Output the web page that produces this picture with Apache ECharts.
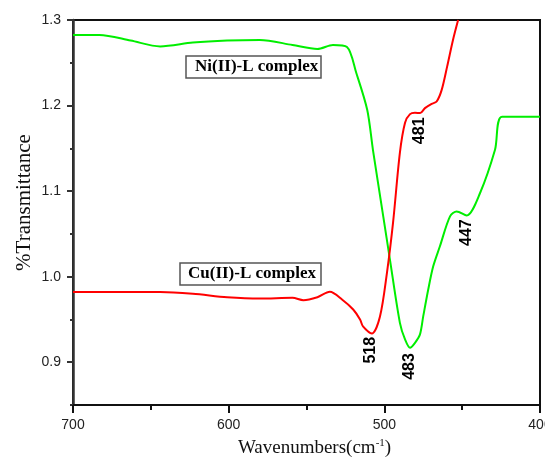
<!DOCTYPE html>
<html>
<head>
<meta charset="utf-8">
<script src="https://cdn.jsdelivr.net/npm/echarts@6/dist/echarts.min.js"></script>
<style>
  html, body { margin: 0; padding: 0; background: #fff; }
  #chart { width: 545px; height: 461px; }
</style>
</head>
<body>
<div id="chart"></div>
<script>
// Ni(II)-L complex spectrum (green)
const niWave = [700, 683, 663, 644, 623, 601, 580, 559, 543, 533, 524, 518, 511, 507.3, 500.7, 496.4, 490, 486.7, 483.5, 480.3, 477.1, 475, 471.8, 468.6, 464.3, 457.8, 453.5, 447.1, 438.5, 428.9, 424.4, 400];
const niT = [1.2825, 1.2825, 1.276, 1.2691, 1.2736, 1.276, 1.2767, 1.2708, 1.2661, 1.2708, 1.2685, 1.238, 1.195, 1.148, 1.0705, 1.02, 0.946, 0.9266, 0.9169, 0.9227, 0.9325, 0.9538, 0.985, 1.0121, 1.0355, 1.0705, 1.0763, 1.0716, 1.0978, 1.1483, 1.1868, 1.1868];

// Cu(II)-L complex spectrum (red)
const cuWave = [700, 644, 623, 601, 580, 559, 552, 543, 535, 527, 520, 515.6, 513.7, 508, 502.8, 498.3, 494.4, 490, 486.7, 483.5, 480.3, 477, 473.9, 469.6, 466.4, 463.2, 459.7, 455.9, 452.6];
const cuT = [0.982, 0.982, 0.980, 0.976, 0.9744, 0.9753, 0.9725, 0.976, 0.9823, 0.973, 0.9616, 0.95, 0.9418, 0.9336, 0.9534, 1.0048, 1.0631, 1.145, 1.18, 1.19, 1.1915, 1.1912, 1.197, 1.202, 1.2047, 1.218, 1.2452, 1.2767, 1.30];

// peak annotations: [label, wavenumber, transmittance]
const niPeaks = [['483', 483.5, 0.895], ['447', 446.9, 1.0515]];
const cuPeaks = [['518', 508.6, 0.914], ['481', 477.1, 1.1705]];

const yMajor = [0.9, 1.0, 1.1, 1.2, 1.3];

const zip = (xs, ys) => xs.map((x, i) => [x, ys[i]]);

const peakMarks = (peaks) => ({
  symbol: 'circle',
  symbolSize: 0,
  silent: true,
  label: {
    show: true,
    position: 'inside',
    rotate: 90,
    formatter: (p) => p.name,
    color: '#000',
    fontFamily: 'Liberation Sans',
    fontWeight: 'bold',
    fontSize: 16
  },
  data: peaks.map((p) => ({ name: p[0], coord: [p[1], p[2]] }))
});

const serif = 'Liberation Serif';
const sans = 'Liberation Sans';

const chart = echarts.init(document.getElementById('chart'));
chart.setOption({
  backgroundColor: '#fff',
  animation: false,
  grid: {
    left: 73, right: 5, top: 20, bottom: 56,
    outerBoundsMode: 'none',
    containLabel: false,
    show: true, borderColor: '#111', borderWidth: 2
  },
  xAxis: {
    type: 'value',
    min: 400, max: 700, interval: 100,
    inverse: true,
    name: '{a|Wavenumbers(cm}{s|-1}{a|)}',
    nameLocation: 'middle',
    nameGap: 33,
    nameTextStyle: {
      padding: [0, 0, 0, 16],
      rich: {
        a: { fontFamily: serif, fontSize: 19, color: '#111' },
        s: { fontFamily: serif, fontSize: 11, color: '#111', verticalAlign: 'top', padding: [0, 0, 10, 0] }
      }
    },
    axisLine: { lineStyle: { color: '#111', width: 2 } },
    axisTick: { inside: false, length: 8, lineStyle: { color: '#111', width: 2 } },
    minorTick: { show: true, splitNumber: 2, length: 5, lineStyle: { color: '#111', width: 2 } },
    axisLabel: { fontFamily: sans, fontSize: 14, color: '#222', margin: 13 },
    splitLine: { show: false }
  },
  yAxis: [{
    type: 'value',
    min: 0.85, max: 1.3, interval: 0.05,
    name: '%Transmittance',
    nameLocation: 'middle',
    nameGap: 38,
    nameTextStyle: { fontFamily: serif, fontSize: 21, color: '#111', padding: [0, 0, 0, 20] },
    axisLine: { lineStyle: { color: '#333', width: 2.5 } },
    axisTick: { inside: false, length: 3, lineStyle: { color: '#333', width: 2 } },
    axisLabel: { show: false },
    splitLine: { show: false }
  }, {
    type: 'value',
    min: 0.85, max: 1.3,
    position: 'left',
    axisLine: { show: false },
    axisTick: { show: true, length: 6, customValues: yMajor, lineStyle: { color: '#333', width: 2 } },
    axisLabel: {
      customValues: yMajor,
      formatter: (v) => v.toFixed(1),
      fontFamily: sans, fontSize: 14, color: '#222', margin: 12
    },
    splitLine: { show: false }
  }],
  graphic: [{
    type: 'group',
    children: [{
      type: 'rect',
      shape: { x: 186, y: 56, width: 135, height: 22 },
      style: { fill: '#fff', stroke: '#555', lineWidth: 1.5 }
    }, {
      type: 'text',
      x: 195, y: 67,
      style: { text: 'Ni(II)-L complex', fontFamily: serif, fontWeight: 'bold', fontSize: 17, fill: '#000', verticalAlign: 'middle' }
    }, {
      type: 'rect',
      shape: { x: 180, y: 263, width: 141, height: 22 },
      style: { fill: '#fff', stroke: '#555', lineWidth: 1.5 }
    }, {
      type: 'text',
      x: 188, y: 274,
      style: { text: 'Cu(II)-L complex', fontFamily: serif, fontWeight: 'bold', fontSize: 17, fill: '#000', verticalAlign: 'middle' }
    }]
  }],
  series: [{
    name: 'Ni(II)-L complex',
    type: 'line',
    data: zip(niWave, niT),
    showSymbol: false,
    smooth: 0.3,
    lineStyle: { color: '#00ee00', width: 2 },
    itemStyle: { color: '#00ee00' },
    markPoint: peakMarks(niPeaks)
  }, {
    name: 'Cu(II)-L complex',
    type: 'line',
    data: zip(cuWave, cuT),
    showSymbol: false,
    smooth: 0.3,
    lineStyle: { color: '#ff0000', width: 2 },
    itemStyle: { color: '#ff0000' },
    markPoint: peakMarks(cuPeaks)
  }]
});
</script>
</body>
</html>
